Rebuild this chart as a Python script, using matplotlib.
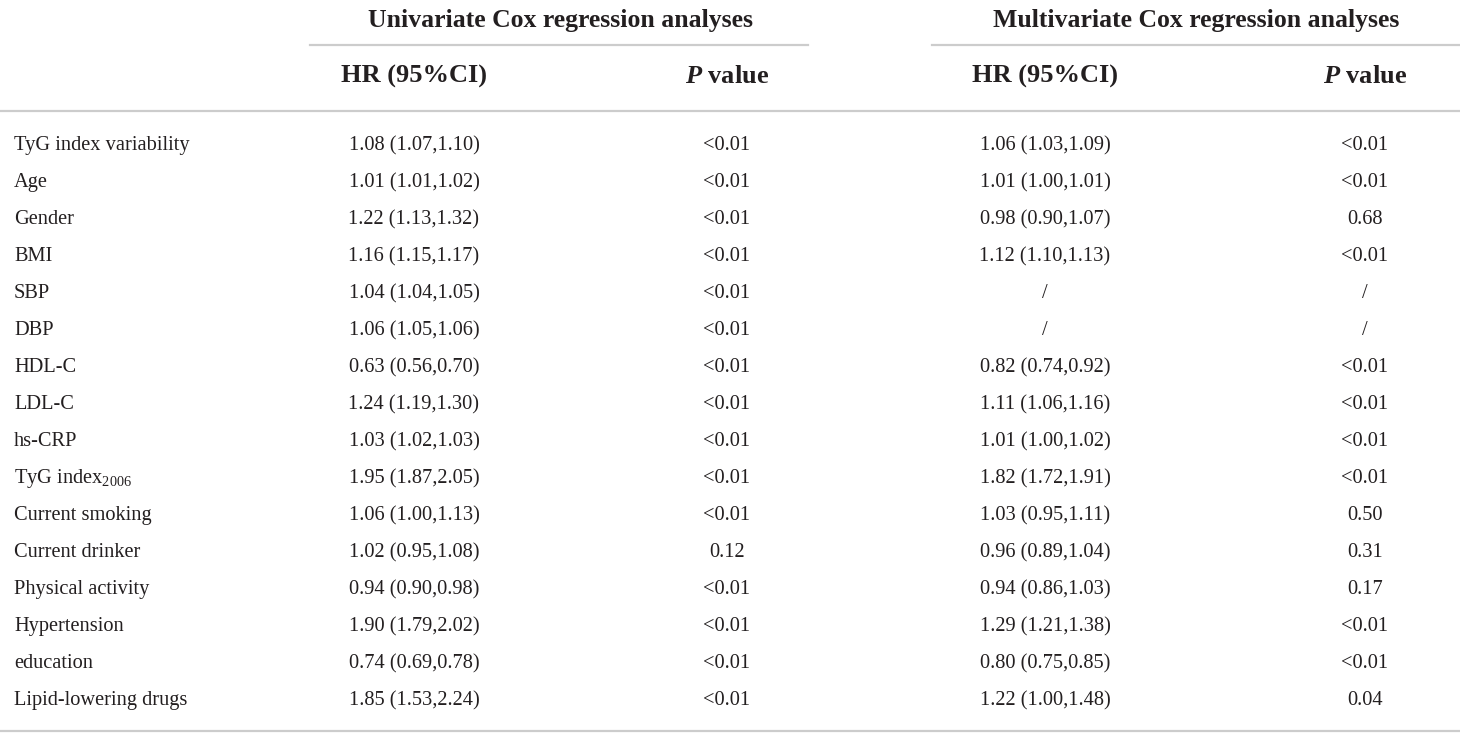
import matplotlib
matplotlib.use("Agg")
import matplotlib.pyplot as plt

plt.rcParams['font.family'] = ['Liberation Serif', 'DejaVu Serif']
plt.rcParams['mathtext.fontset'] = 'custom'
plt.rcParams['mathtext.default'] = 'regular'
plt.rcParams['mathtext.it'] = 'Liberation Serif:italic:bold'
plt.rcParams['mathtext.rm'] = 'Liberation Serif'

variaveis = ["TyG index variability", "Age", "Gender", "BMI", "SBP", "DBP",
             "HDL-C", "LDL-C", "hs-CRP", r"TyG index$_{2006}$", "Current smoking",
             "Current drinker", "Physical activity", "Hypertension", "education",
             "Lipid-lowering drugs"]

hr_uni = ["1.08 (1.07,1.10)", "1.01 (1.01,1.02)", "1.22 (1.13,1.32)", "1.16 (1.15,1.17)",
          "1.04 (1.04,1.05)", "1.06 (1.05,1.06)", "0.63 (0.56,0.70)", "1.24 (1.19,1.30)",
          "1.03 (1.02,1.03)", "1.95 (1.87,2.05)", "1.06 (1.00,1.13)", "1.02 (0.95,1.08)",
          "0.94 (0.90,0.98)", "1.90 (1.79,2.02)", "0.74 (0.69,0.78)", "1.85 (1.53,2.24)"]
p_uni = ["<0.01"] * 11 + ["0.12"] + ["<0.01"] * 4

hr_multi = ["1.06 (1.03,1.09)", "1.01 (1.00,1.01)", "0.98 (0.90,1.07)", "1.12 (1.10,1.13)",
            "/", "/", "0.82 (0.74,0.92)", "1.11 (1.06,1.16)",
            "1.01 (1.00,1.02)", "1.82 (1.72,1.91)", "1.03 (0.95,1.11)", "0.96 (0.89,1.04)",
            "0.94 (0.86,1.03)", "1.29 (1.21,1.38)", "0.80 (0.75,0.85)", "1.22 (1.00,1.48)"]
p_multi = ["<0.01", "<0.01", "0.68", "<0.01", "/", "/", "<0.01", "<0.01",
           "<0.01", "<0.01", "0.50", "0.31", "0.17", "<0.01", "<0.01", "0.04"]

grupos = ["Univariate Cox regression analyses", "Multivariate Cox regression analyses"]
subtitulos = ["HR (95%CI)", r"$\mathit{P}$ value"]

cor_texto = "#231f20"
cor_linha = "#cccccc"

fig = plt.figure(figsize=(14.6, 7.39), dpi=100)
ax = fig.add_axes([0, 0, 1, 1])
ax.set_xlim(0, 1460)
ax.set_ylim(739, 0)
ax.axis("off")

# posicoes das colunas (pixels)
x_cols = [414, 727, 1045, 1365]
y0, passo = 150, 37

ax.text(560, 27, grupos[0], ha="center", va="baseline", fontsize=18.5, fontweight="bold", color=cor_texto)
ax.text(1196, 27, grupos[1], ha="center", va="baseline", fontsize=18.5, fontweight="bold", color=cor_texto)
ax.plot([310, 808], [44.5, 44.5], color=cor_linha, lw=1.6)
ax.plot([932, 1460], [44.5, 44.5], color=cor_linha, lw=1.6)

for i, x in enumerate(x_cols):
    ax.text(x, 83, subtitulos[i % 2], ha="center", va="baseline", fontsize=19,
            fontweight="bold", color=cor_texto)
ax.plot([0, 1460], [110.5, 110.5], color=cor_linha, lw=1.6)

colunas = [hr_uni, p_uni, hr_multi, p_multi]
for i, nome in enumerate(variaveis):
    y = y0 + i * passo
    ax.text(14, y, nome, ha="left", va="baseline", fontsize=14.7, color=cor_texto)
    for x, col in zip(x_cols, colunas):
        ax.text(x, y, col[i], ha="center", va="baseline", fontsize=14.7, color=cor_texto)

ax.plot([0, 1460], [731, 731], color=cor_linha, lw=1.6)

fig.savefig("out.png", dpi=100)
